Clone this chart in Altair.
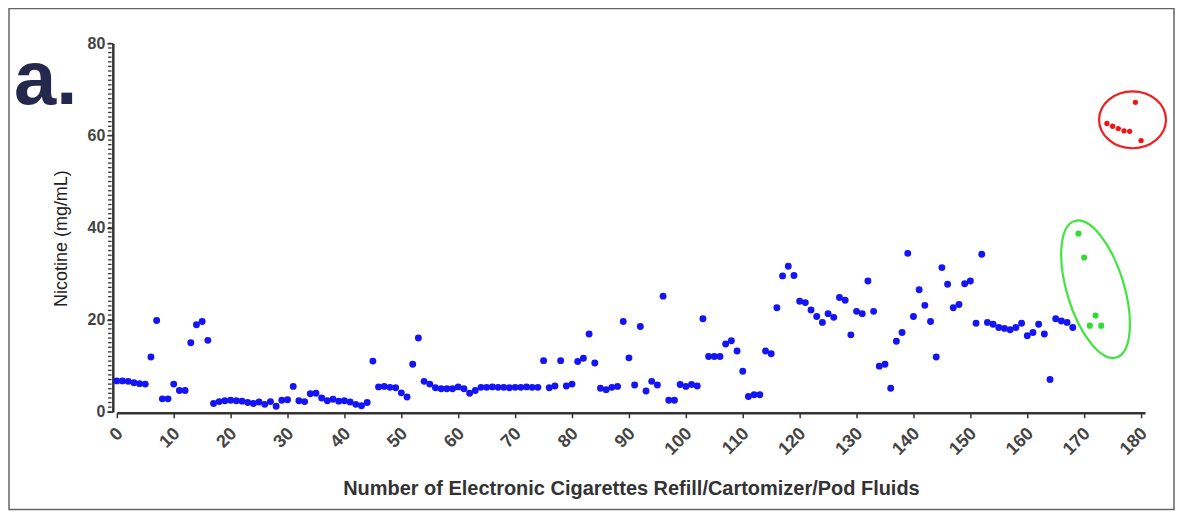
import altair as alt
import pandas as pd

# ---------------- data ----------------
blue_values = [
    6.7, 6.7, 6.6, 6.3, 6.1, 6.0, 11.9, 19.8, 2.8, 2.8,
    6.0, 4.6, 4.6, 15.0, 18.9, 19.6, 15.5, 1.8, 2.2, 2.4,
    2.5, 2.4, 2.3, 2.0, 1.8, 2.1, 1.6, 2.2, 1.2, 2.5,
    2.6, 5.5, 2.4, 2.2, 3.9, 4.0, 3.0, 2.4, 2.7, 2.3,
    2.4, 2.1, 1.6, 1.3, 2.0, 11.0, 5.4, 5.5, 5.3, 5.2,
    4.1, 3.2, 10.3, 16.0, 6.6, 6.0, 5.2, 5.0, 5.0, 5.0,
    5.4, 5.0, 4.0, 4.6, 5.3, 5.3, 5.4, 5.3, 5.3, 5.2,
    5.3, 5.3, 5.4, 5.3, 5.3, 11.1, 5.2, 5.6, 11.1, 5.6,
    6.0, 10.9, 11.6, 16.9, 10.6, 5.1, 4.8, 5.3, 5.5, 19.6,
    11.7, 5.8, 18.5, 4.5, 6.6, 5.8, 25.1, 2.5, 2.5, 5.9,
    5.5, 5.9, 5.6, 20.2, 12.0, 12.0, 12.0, 14.7, 15.4, 13.2,
    8.8, 3.3, 3.7, 3.7, 13.2, 12.6, 22.6, 29.5, 31.6, 29.6,
    24.0, 23.7, 22.1, 20.7, 19.4, 21.3, 20.5, 24.8, 24.2, 16.7,
    21.8, 21.3, 28.4, 21.8, 9.9, 10.3, 5.1, 15.3, 17.2, 34.4,
    20.7, 26.5, 23.1, 19.6, 11.9, 31.3, 27.7, 22.6, 23.3, 27.8,
    28.4, 19.2, 34.2, 19.4, 19.0, 18.3, 18.1, 17.8, 18.3, 19.2,
    16.5, 17.2, 19.0, 16.9, 7.0, 20.2, 19.7, 19.4, 18.3,
]
green_values = [38.7, 33.5, 18.7, 20.9, 18.7]
red_values = [62.6, 62.0, 61.5, 61.0, 60.9, 67.2, 58.9]

blue_idx = list(range(0, 169))
green_idx = list(range(169, 174))
red_idx = list(range(174, 181))

# annotation ellipses (centres in data units)
ellipse_names = ["green", "red"]
ellipse_x = [172.0, 178.5]
ellipse_y = [26.6, 63.4]

x_tick_values = list(range(0, 181, 10))
y_major_ticks = [0, 20, 40, 60, 80]
y_minor_ticks = list(range(0, 81))

X_TITLE = "Number of Electronic Cigarettes Refill/Cartomizer/Pod Fluids"
Y_TITLE = "Nicotine (mg/mL)"
FONT = "Liberation Sans"
AX = "#333333"

# ---------------- tables ----------------
df = pd.DataFrame({
    "idx": blue_idx + green_idx + red_idx,
    "nic": blue_values + green_values + red_values,
    "grp": ["blue"] * len(blue_idx) + ["green"] * len(green_idx) + ["red"] * len(red_idx),
})
ell = pd.DataFrame({"idx": ellipse_x, "nic": ellipse_y, "grp": ellipse_names})
minor = pd.DataFrame({"nic": y_minor_ticks})


def ellipse_path(r):
    k = 0.5523
    return (f"M 1 0 C 1 {k*r:.4f} {k:.4f} {r:.4f} 0 {r:.4f} "
            f"C {-k:.4f} {r:.4f} -1 {k*r:.4f} -1 0 "
            f"C -1 {-k*r:.4f} {-k:.4f} {-r:.4f} 0 {-r:.4f} "
            f"C {k:.4f} {-r:.4f} 1 {-k*r:.4f} 1 0 Z")


W, H = 1030, 369
XMAX = 180.7

x_enc = alt.X(
    "idx:Q",
    scale=alt.Scale(domain=[0, XMAX], nice=False, zero=False),
    axis=alt.Axis(
        values=x_tick_values, title=X_TITLE, grid=False,
        labelAngle=315, labelAlign="right", labelBaseline="middle",
        labelFont=FONT, labelFontSize=18, labelFontWeight="bold", labelColor="#444444",
        labelPadding=13, labelOffset=3, labelFlush=False, labelOverlap=False,
        tickSize=5, tickWidth=1.5, tickColor=AX, domainColor=AX, domainWidth=2.5, offset=1,
        titleFont=FONT, titleFontSize=20, titleFontWeight="bold", titleColor="#333333",
        titleY=76, titleBaseline="middle",
    ),
)
y_enc = alt.Y(
    "nic:Q",
    scale=alt.Scale(domain=[0, 80], nice=False),
    axis=alt.Axis(
        values=y_major_ticks, title=Y_TITLE, grid=False,
        labelFont=FONT, labelFontSize=16, labelFontWeight="bold", labelColor="#444444",
        labelPadding=2, labelOverlap=False, labelFlush=False,
        tickSize=6, tickWidth=1.5, tickColor=AX, domainColor=AX, domainWidth=2.5, offset=4,
        titleFont=FONT, titleFontSize=18, titleFontWeight="normal", titleColor="#222222",
        titleAngle=270, titleX=-51, titleY=195, titleAlign="center", titleBaseline="middle",
    ),
)

points = alt.Chart(df).mark_point(filled=True, opacity=1, shape="circle").encode(
    x=x_enc,
    y=y_enc,
    color=alt.Color("grp:N", scale=alt.Scale(domain=["blue", "green", "red"],
                                               range=["#1414f5", "#2fdc2f", "#f01414"]),
                    legend=None),
    size=alt.Size("grp:N", scale=alt.Scale(domain=["blue", "green", "red"],
                                             range=[48, 28, 36]), legend=None),
)

minor_ticks = alt.Chart(minor).mark_tick(
    orient="horizontal", size=3.5, thickness=1.3, color=AX, opacity=1,
).encode(y=y_enc, x=alt.value(-7))

green_ell = alt.Chart(ell).transform_filter("datum.grp === 'green'").mark_point(
    shape=ellipse_path(0.40), filled=False, stroke="#3fe63f", strokeWidth=2.2,
    size=(2 * 71.5) ** 2, angle=73, opacity=1,
).encode(x=x_enc, y=y_enc)

red_ell = alt.Chart(ell).transform_filter("datum.grp === 'red'").mark_point(
    shape=ellipse_path(0.85), filled=False, stroke="#ee2020", strokeWidth=2.2,
    size=(2 * 33.5) ** 2, angle=0, opacity=1,
).encode(x=x_enc, y=y_enc)

blank = alt.Data(values=[{}])
label_a = alt.Chart(blank).mark_text(
    text="a.", font=FONT, fontSize=76, fontWeight="bold", color="#25284d",
    align="left", baseline="alphabetic",
).encode(x=alt.value(-103), y=alt.value(61))

frame = alt.Chart(blank).mark_rect(
    fill="transparent", stroke="#666666", strokeWidth=1.5,
).encode(x=alt.value(-108), x2=alt.value(1059), y=alt.value(-35), y2=alt.value(467))

chart = alt.layer(frame, label_a, minor_ticks, points, green_ell, red_ell).properties(
    width=W, height=H,
    autosize=alt.AutoSizeParams(type="none"),
    padding={"left": 109, "top": 35, "right": 30, "bottom": 100},
    background="white",
).configure_view(stroke=None)

chart.save("out.html", embed_options={"renderer": "svg", "actions": False})
